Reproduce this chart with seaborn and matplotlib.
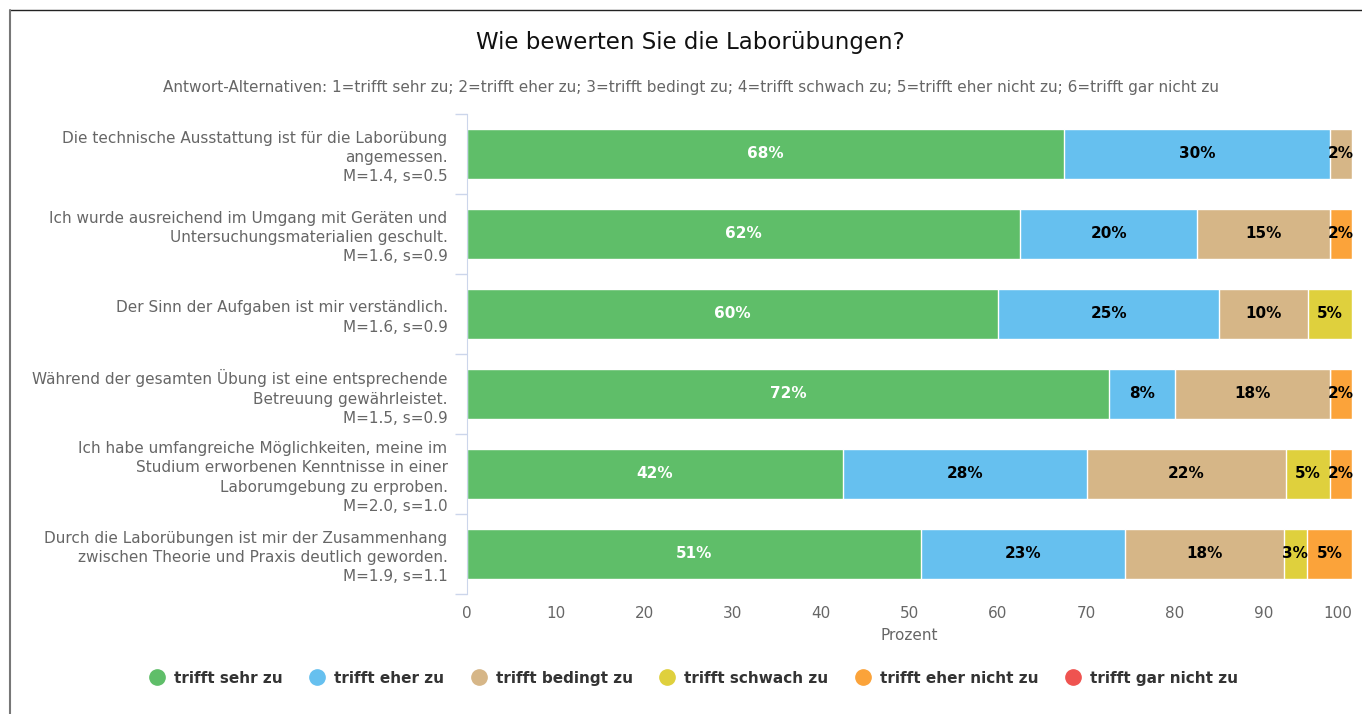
import numpy as np
import pandas as pd
import matplotlib.pyplot as plt
from matplotlib.lines import Line2D
import seaborn as sns

# Fragen (Kategorien) und Kennwerte
questions = [
    "Die technische Ausstattung ist für die Laborübung\nangemessen.",
    "Ich wurde ausreichend im Umgang mit Geräten und\nUntersuchungsmaterialien geschult.",
    "Der Sinn der Aufgaben ist mir verständlich.",
    "Während der gesamten Übung ist eine entsprechende\nBetreuung gewährleistet.",
    "Ich habe umfangreiche Möglichkeiten, meine im\nStudium erworbenen Kenntnisse in einer\nLaborumgebung zu erproben.",
    "Durch die Laborübungen ist mir der Zusammenhang\nzwischen Theorie und Praxis deutlich geworden.",
]
stats = ["M=1.4, s=0.5", "M=1.6, s=0.9", "M=1.6, s=0.9",
         "M=1.5, s=0.9", "M=2.0, s=1.0", "M=1.9, s=1.1"]

answers = ["trifft sehr zu", "trifft eher zu", "trifft bedingt zu",
           "trifft schwach zu", "trifft eher nicht zu", "trifft gar nicht zu"]
colors = ["#5fbe69", "#66c0ef", "#d6b687", "#dfd03d", "#fba33a", "#ef5350"]

# Prozentwerte je Antwort
sehr_zu = [67.5, 62.5, 60.0, 72.5, 42.5, 51.28]
eher_zu = [30.0, 20.0, 25.0, 7.5, 27.5, 23.08]
bedingt_zu = [2.5, 15.0, 10.0, 17.5, 22.5, 17.95]
schwach_zu = [0.0, 0.0, 5.0, 0.0, 5.0, 2.56]
eher_nicht_zu = [0.0, 2.5, 0.0, 2.5, 2.5, 5.13]
gar_nicht_zu = [0.0, 0.0, 0.0, 0.0, 0.0, 0.0]

series = [sehr_zu, eher_zu, bedingt_zu, schwach_zu, eher_nicht_zu, gar_nicht_zu]

df = pd.DataFrame(np.array(series).T, columns=answers)
df["frage"] = questions
cum = df[answers].cumsum(axis=1)

sns.set_style("white")
plt.rcParams["font.family"] = ["DejaVu Sans"]

fig = plt.figure(figsize=(13.62, 7.14), dpi=100)
ax = fig.add_axes([0.3429, 0.1681, 0.6498, 0.6723])

# gestapelte Balken: kumulierte Summen von hinten nach vorne zeichnen
for i in range(len(answers) - 1, -1, -1):
    sns.barplot(x=cum[answers[i]], y=df["frage"], orient="h", color=colors[i],
                width=0.625, edgecolor="white", linewidth=1, ax=ax,
                saturation=1)

# Beschriftungen in den Segmenten
for r in range(len(questions)):
    left = 0
    for i, a in enumerate(answers):
        v = df.loc[r, a]
        if v > 0:
            ax.text(left + v / 2, r, f"{round(v)}%", ha="center", va="center",
                    fontsize=11, fontweight="bold",
                    color="white" if i == 0 else "black")
        left += v

ax.set_xlim(0, 100)
ax.set_xticks(range(0, 101, 10))
ax.set_xticklabels([str(t) for t in range(0, 101, 10)])
ax.get_xticklabels()[-1].set_ha("right")
ax.tick_params(axis="x", length=0, pad=9, labelsize=11, labelcolor="#666666")
ax.set_xlabel("Prozent", fontsize=11, color="#666666", labelpad=5)

ax.set_yticks(range(len(questions)))
ax.set_yticklabels([q + "\n" + s for q, s in zip(questions, stats)],
                   fontsize=11, color="#666666", linespacing=1.36)
ax.tick_params(axis="y", which="major", length=0, pad=14)
ax.set_yticks(np.arange(-0.5, len(questions), 1.0), minor=True)
ax.tick_params(axis="y", which="minor", left=True, length=9, width=1,
               color="#ccd6eb")
ax.set_ylim(len(questions) - 0.5, -0.5)
ax.set_ylabel("")

for s in ["top", "right", "bottom"]:
    ax.spines[s].set_visible(False)
ax.spines["left"].set_color("#ccd6eb")
ax.grid(False)

fig.text(0.507, 0.94, "Wie bewerten Sie die Laborübungen?", ha="center",
         va="center", fontsize=16.5, color="#111111")
fig.text(0.507, 0.877,
         "Antwort-Alternativen: 1=trifft sehr zu; 2=trifft eher zu; 3=trifft bedingt zu; "
         "4=trifft schwach zu; 5=trifft eher nicht zu; 6=trifft gar nicht zu",
         ha="center", va="center", fontsize=11, color="#666666")

handles = [Line2D([], [], marker="o", linestyle="", markersize=11, color=c)
           for c in colors]
leg = fig.legend(handles, answers, loc="center", bbox_to_anchor=(0.508, 0.05),
                 ncol=6, frameon=False, handletextpad=0.37, columnspacing=1.5,
                 handlelength=1.5, prop={"weight": "bold", "size": 11})
for t in leg.get_texts():
    t.set_color("#333333")

# Rahmen oben und links
fig.add_artist(Line2D([0.0073, 1], [0.986, 0.986], color="#222222", linewidth=1))
fig.add_artist(Line2D([0.0073, 0.0073], [0, 0.986], color="#777777", linewidth=1.5))

fig.savefig("out.png", dpi=100)
